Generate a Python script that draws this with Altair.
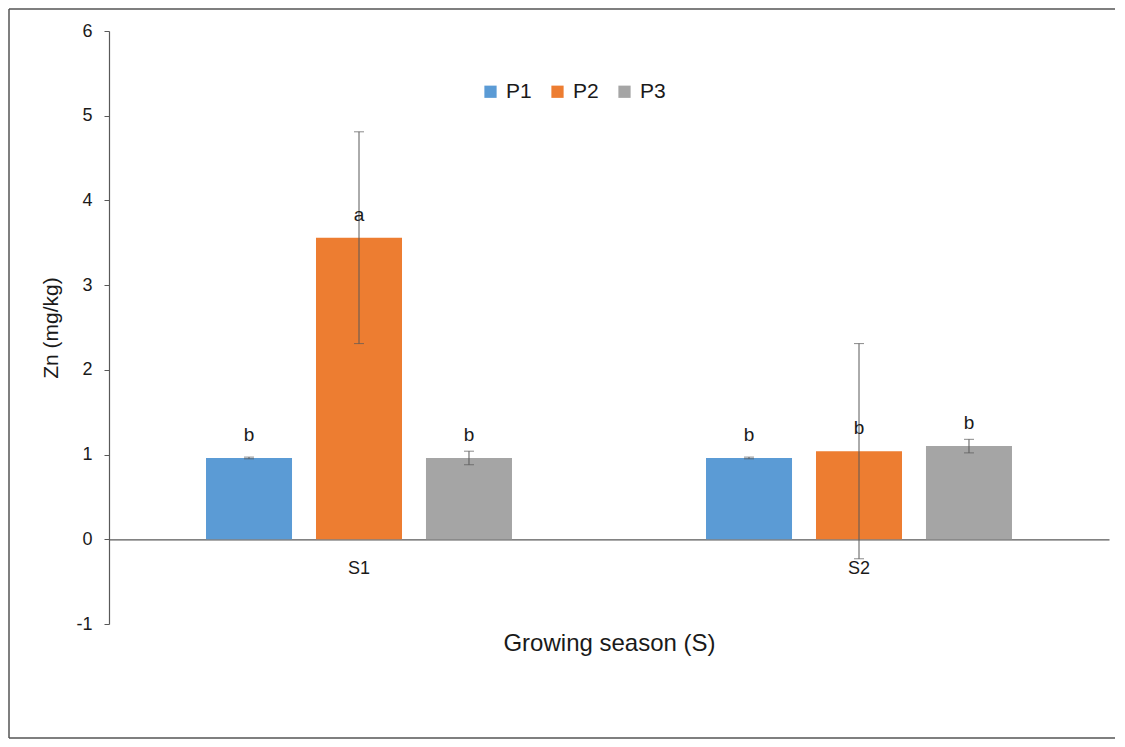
import altair as alt
import pandas as pd

seasons = ["S1", "S1", "S1", "S2", "S2", "S2"]
treatments = ["P1", "P2", "P3", "P1", "P2", "P3"]
means = [0.96, 3.56, 0.96, 0.96, 1.04, 1.10]
errors = [0.01, 1.25, 0.08, 0.01, 1.27, 0.08]
letters = ["b", "a", "b", "b", "b", "b"]

colors = ["#5B9BD5", "#ED7D31", "#A5A5A5"]
y_ticks = [-1, 0, 1, 2, 3, 4, 5, 6]

df = pd.DataFrame({
    "Season": seasons,
    "Treatment": treatments,
    "Mean": means,
    "Err": errors,
    "Letter": letters,
})
df["Lo"] = df["Mean"] - df["Err"]
df["Hi"] = df["Mean"] + df["Err"]

FONT = "Liberation Sans"
AX = "#595959"
TXT = "#1a1a1a"
W, H = 1000, 593

x_enc = alt.X(
    "Season:N",
    scale=alt.Scale(paddingInner=0, paddingOuter=0),
    axis=alt.Axis(
        title="Growing season (S)",
        offset=-H / 7,
        ticks=False,
        labelAngle=0,
        labelPadding=20,
        labelFontSize=18,
        labelColor=TXT,
        labelFont=FONT,
        domainColor=AX,
        domainWidth=1.2,
        titleFontSize=24,
        titleFontWeight="normal",
        titleFont=FONT,
        titleColor=TXT,
        titleY=92,
        grid=False,
    ),
)
xo_enc = alt.XOffset(
    "Treatment:N",
    scale=alt.Scale(paddingInner=0.218, paddingOuter=0.882),
)
y_scale = alt.Scale(domain=[-1, 6], nice=False, zero=False)

base = alt.Chart(df)

bars = base.mark_bar().encode(
    x=x_enc,
    xOffset=xo_enc,
    y=alt.Y(
        "Mean:Q",
        scale=y_scale,
        axis=alt.Axis(
            title="Zn (mg/kg)",
            values=y_ticks,
            labelExpr="datum.value + ''",
            grid=False,
            tickSize=5,
            tickColor=AX,
            domainColor=AX,
            domainWidth=1.2,
            labelPadding=12,
            labelFontSize=18,
            labelFont=FONT,
            labelColor=TXT,
            titleFontSize=21,
            titleFontWeight="normal",
            titleFont=FONT,
            titleColor=TXT,
            titlePadding=14,
        ),
    ),
    y2=alt.datum(0),
    color=alt.Color(
        "Treatment:N",
        scale=alt.Scale(domain=["P1", "P2", "P3"], range=colors),
        legend=alt.Legend(
            orient="none",
            legendX=371,
            legendY=50,
            direction="horizontal",
            title=None,
            symbolType="square",
            symbolSize=150,
            symbolStrokeWidth=0,
            labelFontSize=21,
            labelFont=FONT,
            labelColor=TXT,
            labelOffset=5,
            columnPadding=15,
        ),
    ),
)

rules = base.mark_rule(color=AX, strokeWidth=1).encode(
    x=alt.X("Season:N"),
    xOffset=xo_enc,
    y=alt.Y("Lo:Q", scale=y_scale),
    y2="Hi:Q",
)

caps_hi = base.mark_tick(color=AX, thickness=1, size=10).encode(
    x=alt.X("Season:N"),
    xOffset=xo_enc,
    y=alt.Y("Hi:Q", scale=y_scale),
)
caps_lo = base.mark_tick(color=AX, thickness=1, size=10).encode(
    x=alt.X("Season:N"),
    xOffset=xo_enc,
    y=alt.Y("Lo:Q", scale=y_scale),
)

labels = base.mark_text(
    fontSize=19, font=FONT, color=TXT, baseline="middle", dy=-23
).encode(
    x=alt.X("Season:N"),
    xOffset=xo_enc,
    y=alt.Y("Mean:Q", scale=y_scale),
    text="Letter:N",
)

one = pd.DataFrame({"k": [0]})
frame_left = alt.Chart(one).mark_rule(color="#555555", strokeWidth=1.5).encode(
    x=alt.value(-100), y=alt.value(-22), y2=alt.value(707)
)
frame_top = alt.Chart(one).mark_rule(color="#555555", strokeWidth=1.5).encode(
    x=alt.value(-100), x2=alt.value(1006), y=alt.value(-22)
)
frame_bottom = alt.Chart(one).mark_rule(color="#555555", strokeWidth=1.5).encode(
    x=alt.value(-100), x2=alt.value(1006), y=alt.value(707)
)

chart = alt.layer(
    bars, rules, caps_hi, caps_lo, labels, frame_left, frame_top, frame_bottom
).properties(
    width=W,
    height=H,
    padding={"left": 101, "top": 23, "right": 8, "bottom": 115},
    autosize=alt.AutoSizeParams(type="none"),
    background="white",
).configure_view(stroke=None)

chart.save("out.html", embed_options={"renderer": "svg", "actions": False})
